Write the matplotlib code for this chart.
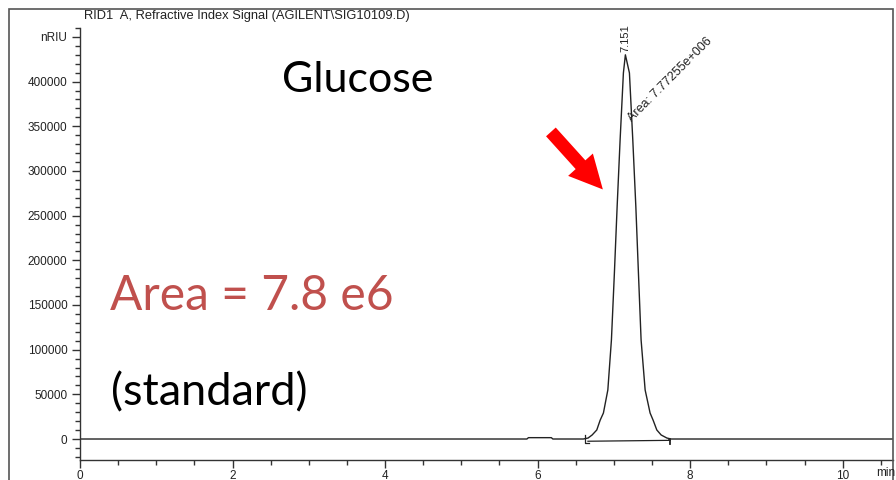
import matplotlib
matplotlib.use("Agg")
import matplotlib.pyplot as plt
from matplotlib.patches import FancyArrowPatch, Rectangle
import numpy as np

# ---- data ----
time_min = [0.0, 5.86, 5.88, 6.18, 6.20, 6.60, 6.662, 6.715, 6.776, 6.820, 6.863, 6.921, 6.968,
            7.007, 7.043, 7.082, 7.125, 7.151, 7.204, 7.248, 7.288, 7.322,
            7.357, 7.410, 7.475, 7.515, 7.563, 7.620, 7.695, 7.75, 10.66]
signal_nriu = [0, 0, 1500, 1500, 0, 0, 1100, 4500, 10100, 21000, 29100, 54900, 110900,
               186000, 260300, 335000, 409700, 430000, 409700, 335000, 260300, 186000,
               110900, 54900, 29100, 21000, 10100, 4500, 1100, 0, 0]

peak_rt = 7.151
peak_height = 430000
peak_area_label = "Area: 7.77255e+006"
int_start = (6.66, -2500)
int_end = (7.74, -1500)

ytick_vals = [0, 50000, 100000, 150000, 200000, 250000, 300000, 350000, 400000, 450000]
ytick_labels = ["0", "50000", "100000", "150000", "200000", "250000", "300000",
                "350000", "400000", "nRIU"]
xtick_vals = [0, 2, 4, 6, 8, 10]
xtick_labels = ["0", "2", "4", "6", "8", "10"]

title = "RID1  A, Refractive Index Signal (AGILENT\\SIG10109.D)"
compound = "Glucose"
area_text = "Area = 7.8 e6"
note_text = "(standard)"

# ---- figure ----
W, H = 896, 480
fig = plt.figure(figsize=(W / 100, H / 100), dpi=100)
ax = fig.add_axes([80 / W, (H - 460) / H, (893 - 80) / W, (460 - 28) / H])

ax.plot(time_min, signal_nriu, color="#222222", lw=1.0, solid_joinstyle="round")
# integration baseline and markers
ax.plot([int_start[0], int_end[0]], [int_start[1], int_end[1]], color="#222222", lw=0.9)
ax.plot([6.62, 6.62, 6.68], [4500, -4000, -4000], color="#222222", lw=0.9)
ax.plot([7.72, 7.74, 7.74], [0, 0, -5500], color="#222222", lw=1.3)

ax.set_xlim(0, 10.66)
ax.set_ylim(-23500, 460000)

for s in ["top", "right"]:
    ax.spines[s].set_visible(False)
for s in ["left", "bottom"]:
    ax.spines[s].set_color("#333333")
    ax.spines[s].set_linewidth(1.0)

ax.set_yticks(ytick_vals)
ax.set_yticklabels(ytick_labels)
ax.set_yticks(np.arange(-20000, 460001, 10000), minor=True)
ax.set_xticks(xtick_vals)
ax.set_xticklabels(xtick_labels)
ax.set_xticks(np.arange(0, 10.66, 0.5), minor=True)

for lab in ax.get_yticklabels() + ax.get_xticklabels():
    lab.set_fontfamily("Liberation Sans")
    lab.set_fontsize(8.5)
    lab.set_color("#222222")
ax.tick_params(axis="y", which="major", direction="out", length=6, width=1.0,
               color="#333333", pad=3)
ax.tick_params(axis="x", which="major", direction="out", length=6, width=1.0,
               color="#333333", pad=1)
ax.tick_params(axis="both", which="minor", direction="out", length=3.5, width=1.0,
               color="#333333")

# outer frame
fig.patches.append(Rectangle((9 / W, -0.1), (893 - 9) / W, (H - 9) / H + 0.1,
                             transform=fig.transFigure, fill=False,
                             edgecolor="#555555", lw=1.2))

fig.text(84 / W, 1 - 16 / H, title, ha="left", va="center",
         family="Liberation Sans", size=9.3, color="#222222")
fig.text(876 / W, 1 - 473 / H, "min", ha="left", va="center",
         family="Liberation Sans", size=8.5, color="#222222")

# peak annotations
ax.text(peak_rt, peak_height + 3000, f"{peak_rt:.3f}", rotation=90, ha="center",
        va="bottom", family="Liberation Sans", size=8, color="#222222")
ax.text(7.27, 352000, peak_area_label, rotation=45, rotation_mode="anchor",
        ha="left", va="bottom", family="Liberation Sans", size=9, color="#222222")

# big texts
big = "Lato"
fig.text(282 / W, 1 - 92 / H, compound, ha="left", va="baseline",
         family=big, size=31, color="black")
fig.text(110 / W, 1 - 310 / H, area_text, ha="left", va="baseline",
         family=big, size=34.5, color="#C0504D")
fig.text(111 / W, 1 - 405 / H, note_text, ha="left", va="baseline",
         family=big, size=32.5, color="black")

# red arrow
arrow = FancyArrowPatch((6.15, 346000), (6.88, 277000),
                        arrowstyle="simple,head_length=1.2,head_width=1.2,tail_width=0.47",
                        mutation_scale=20, color="red", lw=0)
ax.add_patch(arrow)

fig.savefig("out.png", dpi=100)
